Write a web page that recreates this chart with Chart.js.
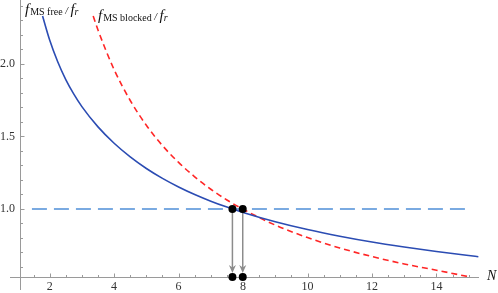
<!DOCTYPE html>
<html><head><meta charset="utf-8">
<script src="https://cdn.jsdelivr.net/npm/chart.js@4"></script>
<style>html,body{margin:0;padding:0;background:#fff}#wrap{width:498px;height:293px;position:relative}</style>
</head><body><div id="wrap"><canvas id="c"></canvas></div>
<script>
// ---- data ----
const freeN = [1.78, 2.0, 2.25, 2.5, 2.75, 3.0, 3.5, 4.0, 4.5, 5.0, 5.5, 6.0, 6.5, 7.0, 7.5, 8.0, 9.0, 10.0, 11.0, 12.0, 13.0, 14.0, 15.0, 15.3];
const freeRatio = [2.33, 2.165, 2.015, 1.892, 1.792, 1.706, 1.566, 1.453, 1.359, 1.279, 1.211, 1.152, 1.10, 1.054, 1.013, 0.976, 0.912, 0.858, 0.812, 0.772, 0.738, 0.707, 0.679, 0.671];
const blockedN = [3.35, 3.5, 4.0, 4.5, 5.0, 5.5, 6.0, 6.5, 7.0, 7.5, 8.0, 9.0, 10.0, 11.0, 12.0, 13.0, 14.0, 15.0];
const blockedRatio = [2.331, 2.234, 1.961, 1.748, 1.577, 1.437, 1.321, 1.222, 1.136, 1.062, 0.998, 0.889, 0.803, 0.731, 0.672, 0.621, 0.578, 0.533];
const unityN = [1.45, 15.05];
const unityRatio = [1.0, 1.0];
const crossingN = [7.67, 7.99];
const crossingRatio = 1.0;
const xTickValues = [2, 4, 6, 8, 10, 12, 14];
const yTickValues = [1.0, 1.5, 2.0];
const xRange = [1.08, 15.32];
const yRange = [0.531, 2.441];
const xAxisTitle = 'N';
const freeLabel = ['f', 'MS free', ' / ', 'f', 'r'];
const blockedLabel = ['f', 'MS blocked', ' / ', 'f', 'r'];

const SERIF = '"Liberation Serif", "DejaVu Serif", serif';
const toPts = (xs, ys) => xs.map((x, i) => ({x, y: Array.isArray(ys) ? ys[i] : ys}));

const dotPts = [].concat(crossingN.map(n => ({x: n, y: crossingRatio})), crossingN.map(n => ({x: n, y: yRange[0]})));

const decor = {
  id: 'decor',
  beforeDatasetsDraw(chart) {
    const {ctx, chartArea: ca, scales: {x, y}} = chart;
    ctx.save();
    ctx.strokeStyle = '#9a9a9a';
    ctx.lineWidth = 1;
    const ax = Math.round(ca.left) + 0.5, ay = Math.round(ca.bottom) + 0.5;
    ctx.beginPath();
    ctx.moveTo(ca.left - 10, ay); ctx.lineTo(ca.right, ay);
    ctx.moveTo(ax, ca.top); ctx.lineTo(ax, ca.bottom + 13);
    ctx.stroke();
    // x ticks every 0.5
    ctx.beginPath();
    for (let v = 1.5; v <= xRange[1] + 1e-9; v += 0.5) {
      const p = Math.round(x.getPixelForValue(v)) + 0.5;
      const major = Math.abs(v / 2 - Math.round(v / 2)) < 1e-6;
      ctx.moveTo(p, ay); ctx.lineTo(p, ay - (major ? 4 : 2.5));
    }
    // y ticks every 0.1
    for (let k = 6; k <= 24; k++) {
      const v = k / 10;
      const p = Math.round(y.getPixelForValue(v)) + 0.5;
      const major = k % 5 === 0;
      ctx.moveTo(ax, p); ctx.lineTo(ax + (major ? 4 : 2.5), p);
    }
    ctx.stroke();
    // arrows
    ctx.strokeStyle = '#8c8c8c';
    ctx.fillStyle = '#8c8c8c';
    ctx.lineWidth = 1.5;
    crossingN.forEach(n => {
      const px = x.getPixelForValue(n);
      const top = y.getPixelForValue(crossingRatio);
      const tip = y.getPixelForValue(yRange[0]) - 4;
      ctx.beginPath(); ctx.moveTo(px, top); ctx.lineTo(px, tip - 5); ctx.stroke();
      ctx.beginPath();
      ctx.moveTo(px, tip); ctx.lineTo(px - 3.5, tip - 8); ctx.lineTo(px, tip - 5.5); ctx.lineTo(px + 3.5, tip - 8);
      ctx.closePath(); ctx.fill();
    });
    ctx.restore();
  },
  afterDraw(chart) {
    const {ctx, chartArea: ca} = chart;
    ctx.save();
    ctx.fillStyle = '#111';
    ctx.textBaseline = 'alphabetic';
    function drawLabel(parts, x0, base) {
      const styles = [
        {f: 'italic 15px ' + SERIF, dy: 0},
        {f: '10px ' + SERIF, dy: 1},
        {f: 'italic 10px ' + SERIF, dy: 0},
        {f: 'italic 15px ' + SERIF, dy: 0},
        {f: 'italic 10px ' + SERIF, dy: 1}
      ];
      let cx = x0;
      parts.forEach((t, i) => {
        ctx.font = styles[i].f;
        ctx.fillText(t, cx, base + styles[i].dy);
        cx += ctx.measureText(t).width + (i === 0 ? 1 : 0);
      });
    }
    drawLabel(freeLabel, ca.left + 5, 14);
    drawLabel(blockedLabel, ca.left + 78, 20);
    ctx.font = 'italic 14px ' + SERIF;
    ctx.fillText(xAxisTitle, ca.right + 8, ca.bottom + 3);
    ctx.restore();
  }
};

new Chart(document.getElementById('c'), {
  type: 'line',
  data: {
    datasets: [
      {data: dotPts, showLine: false, pointRadius: 4, pointBackgroundColor: '#000', pointBorderColor: '#000', pointBorderWidth: 0, clip: false},
      {data: toPts(freeN, freeRatio), borderColor: '#2b4cb3', borderWidth: 1.6, pointRadius: 0, cubicInterpolationMode: 'monotone', fill: false},
      {data: toPts(blockedN, blockedRatio), borderColor: '#ff2626', borderWidth: 1.6, borderDash: [6, 4], pointRadius: 0, cubicInterpolationMode: 'monotone', fill: false},
      {data: toPts(unityN, unityRatio), borderColor: '#4f8fd8', borderWidth: 1.5, borderDash: [15, 7], pointRadius: 0, fill: false}
    ]
  },
  options: {
    responsive: true,
    maintainAspectRatio: false,
    animation: false,
    events: [],
    layout: {padding: {left: 0, right: 19, top: 0, bottom: 0}, autoPadding: false},
    plugins: {legend: {display: false}, tooltip: {enabled: false}},
    scales: {
      x: {
        type: 'linear', min: xRange[0], max: xRange[1],
        grid: {display: false, drawTicks: false}, border: {display: false},
        ticks: {font: {family: SERIF, size: 12}, color: '#333', padding: 3, maxRotation: 0, autoSkip: false},
        afterBuildTicks: s => { s.ticks = xTickValues.map(v => ({value: v})); },
        afterFit: s => { s.height = 16; s.paddingLeft = 0; s.paddingRight = 0; s.paddingTop = 0; s.paddingBottom = 0; }
      },
      y: {
        type: 'linear', min: yRange[0], max: yRange[1],
        grid: {display: false, drawTicks: false}, border: {display: false},
        ticks: {font: {family: SERIF, size: 12}, color: '#333', padding: 5, autoSkip: false,
          callback: v => Number(v).toFixed(1)},
        afterBuildTicks: s => { s.ticks = yTickValues.map(v => ({value: v})); },
        afterFit: s => { s.width = 20; s.paddingLeft = 0; s.paddingRight = 0; s.paddingTop = 0; s.paddingBottom = 0; }
      }
    }
  },
  plugins: [decor]
});
</script>
</body></html>
